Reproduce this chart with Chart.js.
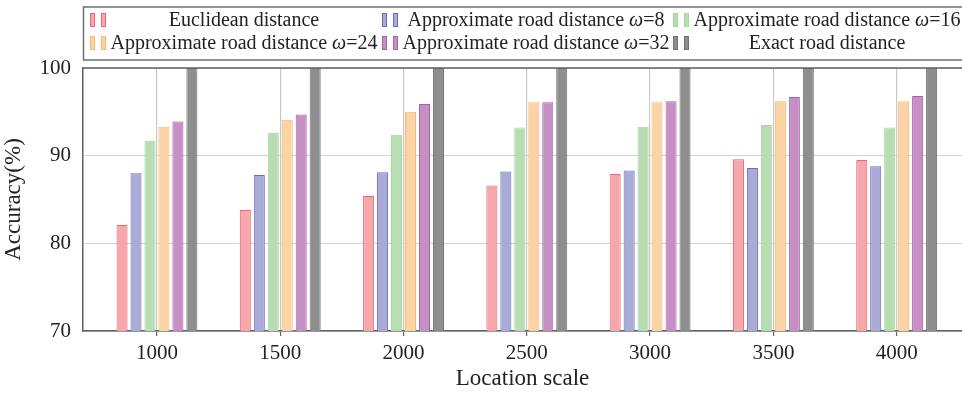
<!DOCTYPE html>
<html>
<head>
<meta charset="utf-8">
<script src="https://cdn.jsdelivr.net/npm/chart.js@4"></script>
<style>
  html, body { margin: 0; padding: 0; background: #fff; }
  #wrap { width: 962px; height: 394px; }
</style>
</head>
<body>
<div id="wrap"><canvas id="accChart" width="962" height="394"></canvas></div>
<script>
// data
const locations = [1000, 1500, 2000, 2500, 3000, 3500, 4000];
const euclidean = [82.1, 83.8, 85.4, 86.6, 87.9, 89.6, 89.5];
const approx8   = [88.0, 87.8, 88.1, 88.2, 88.3, 88.6, 88.8];
const approx16  = [91.7, 92.6, 92.4, 93.2, 93.3, 93.5, 93.2];
const approx24  = [93.3, 94.1, 95.0, 96.1, 96.1, 96.2, 96.2];
const approx32  = [93.9, 94.7, 95.9, 96.1, 96.2, 96.7, 96.8];
const exact     = [100, 100, 100, 100, 100, 100, 100];
const yTicks = [70, 80, 90, 100];
const seriesNames = [
    'Euclidean distance',
    'Approximate road distance ω=8',
    'Approximate road distance ω=16',
    'Approximate road distance ω=24',
    'Approximate road distance ω=32',
    'Exact road distance'
];

const fills   = ['#f5a7ab', '#aaaad6', '#b9ddb2', '#fcd3a5', '#c790c5', '#8e8e8e'];
const borders = ['#ef6673', '#6b6bc2', '#a6d69d', '#f8b870', '#a962a8', '#727272'];
const serif = '"Liberation Serif", "DejaVu Serif", serif';

function points(arr) {
    return locations.map((x, i) => ({ x: x, y: arr[i] }));
}

let series = [euclidean, approx8, approx16, approx24, approx32, exact];

// legend box drawn by hand: 3 columns x 2 rows
const legendBox = {
    id: 'legendBox',
    afterDraw(chart) {
        const c = chart.ctx;
        c.save();
        c.strokeStyle = '#6f6f6f';
        c.lineWidth = 1.5;
        c.beginPath();
        c.moveTo(966, 7); c.lineTo(83.5, 7); c.lineTo(83.5, 60); c.lineTo(966, 60);
        c.stroke();

        const iconX = [90, 382, 673];
        const textC = [244, 536, 827];
        const rowY = [20, 43];
        chart.data.datasets.forEach((ds, i) => {
            const col = i % 3, row = Math.floor(i / 3);
            const y = rowY[row];
            c.fillStyle = ds.backgroundColor;
            c.strokeStyle = ds.borderColor;
            c.lineWidth = 1;
            c.fillRect(iconX[col], y - 7, 5, 14);
            c.strokeRect(iconX[col] + 0.5, y - 6.5, 4, 13);
            c.fillRect(iconX[col] + 11, y - 7, 5, 14);
            c.strokeRect(iconX[col] + 11.5, y - 6.5, 4, 13);

            // text with italic omega
            const label = ds.label;
            const k = label.indexOf('ω');
            const normal = '20px ' + serif, italic = 'italic 20px ' + serif;
            let parts = k < 0 ? [[label, normal]] :
                [[label.slice(0, k), normal], ['ω', italic], [label.slice(k + 1), normal]];
            let total = 0;
            parts.forEach(p => { c.font = p[1]; total += c.measureText(p[0]).width; });
            let x = textC[col] - total / 2;
            c.fillStyle = '#222';
            c.textBaseline = 'middle';
            c.textAlign = 'left';
            parts.forEach(p => {
                c.font = p[1];
                c.fillText(p[0], x, y + 1);
                x += c.measureText(p[0]).width;
            });
        });

        // top frame line of the plot
        const a = chart.chartArea;
        c.strokeStyle = '#606060';
        c.lineWidth = 1.5;
        c.beginPath();
        c.moveTo(a.left, a.top); c.lineTo(966, a.top);
        c.stroke();
        c.restore();
    }
};

let ctx = document.getElementById('accChart').getContext('2d');
let chart = new Chart(ctx, {
    type: 'bar',
    data: {
        datasets: series.map((arr, i) => ({
            label: seriesNames[i],
            data: points(arr),
            backgroundColor: fills[i],
            borderColor: borders[i],
            borderWidth: 1,
            borderSkipped: false,
            categoryPercentage: 0.68,
            barPercentage: 0.79
        }))
    },
    options: {
        responsive: false,
        animation: false,
        layout: { padding: { top: 68, left: 0, right: 0, bottom: 0 } },
        plugins: {
            legend: { display: false },
            tooltip: { enabled: false }
        },
        scales: {
            x: {
                type: 'linear',
                min: 700,
                max: 4265,
                offset: false,
                afterBuildTicks: s => { s.ticks = locations.map(v => ({ value: v })); },
                afterFit: s => { s.height = 63; },
                grid: { offset: false, color: '#c8c8c8', lineWidth: 1.2, tickLength: 5, tickColor: '#666' },
                border: { color: '#606060', width: 1.5 },
                ticks: {
                    color: '#222',
                    font: { family: serif, size: 21 },
                    padding: 5,
                    maxRotation: 0,
                    callback: v => String(v)
                },
                title: {
                    display: true,
                    text: 'Location scale',
                    color: '#222',
                    font: { family: serif, size: 23 },
                    padding: { top: 0, bottom: 1 }
                }
            },
            y: {
                min: 70,
                max: 100,
                afterBuildTicks: s => { s.ticks = yTicks.map(v => ({ value: v })); },
                afterFit: s => { s.width = 83; },
                grid: { color: '#d2d2d2', lineWidth: 1, drawTicks: false },
                border: { color: '#606060', width: 1.5 },
                ticks: {
                    color: '#222',
                    font: { family: serif, size: 21 },
                    padding: 12
                },
                title: {
                    display: true,
                    text: 'Accuracy(%)',
                    color: '#222',
                    font: { family: serif, size: 23 },
                    padding: { top: 0, bottom: 8 }
                }
            }
        }
    },
    plugins: [legendBox]
});
</script>
</body>
</html>
